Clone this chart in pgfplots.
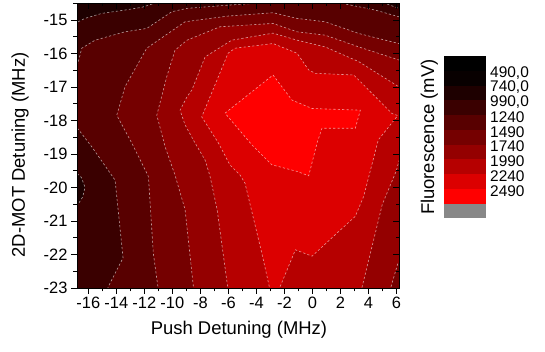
\documentclass[border=0pt]{standalone}
\usepackage{fontspec}
\setmainfont{Liberation Sans}
\usepackage{pgfplots}
\pgfplotsset{compat=1.18}
\definecolor{c490}{RGB}{8,0,0}
\definecolor{c740}{RGB}{30,0,0}
\definecolor{c990}{RGB}{58,0,0}
\definecolor{c1240}{RGB}{88,0,0}
\definecolor{c1490}{RGB}{117,0,0}
\definecolor{c1740}{RGB}{148,0,0}
\definecolor{c1990}{RGB}{182,0,0}
\definecolor{c2240}{RGB}{220,0,0}
\definecolor{c2490}{RGB}{255,0,0}
\definecolor{cgray}{RGB}{136,136,136}
\tikzset{cl/.style={draw=white, draw opacity=0.6, line width=0.6pt, dash pattern=on 2.2pt off 2.2pt}}
\begin{document}
\begin{tikzpicture}
\useasboundingbox (0,0) rectangle (545bp,352bp);
\begin{axis}[
  at={(77bp,64bp)}, anchor=south west, scale only axis, width=322bp, height=285bp,
  xmin=-16.81, xmax=6.19, ymin=-23, ymax=-14.49,
  axis on top,
  xtick={-16,-14,...,6}, xticklabels={-16,-14,-12,-10,-8,-6,-4,-2,0,2,4,6},
  minor xtick={-15,-13,...,5},
  ytick={-23,-22,...,-15}, yticklabels={-23,-22,-21,-20,-19,-18,-17,-16,-15},
  minor ytick={-22.5,-21.5,...,-14.5},
  tick align=outside, xtick pos=left, ytick pos=left,
  major tick length=6bp, minor tick length=3.5bp,
  tick style={black, line width=0.8pt},
  ticklabel style={font=\fontsize{16.5}{16.5}\selectfont},
  xlabel={Push Detuning (MHz)}, ylabel={2D-MOT Detuning (MHz)},
  label style={font=\fontsize{18.5}{18.5}\selectfont},
  xlabel style={at={(axis description cs:0.503,-0.147)}, anchor=center},
  ylabel style={at={(axis description cs:-0.177,0.467)}, anchor=center},
  axis line style={line width=0.8pt},
]
% base level 990-1240
\addplot[fill=c990, draw=none] coordinates {(-18,-24) (8,-24) (8,-14) (-18,-14)} -- cycle;
% below 990 regions
\addplot[fill=c740, cl] coordinates {(-18,-14.2) (-18,-15.10) (-16.96,-15.10) (-16.24,-14.95) (-15.04,-14.80) (-13.38,-14.70) (-12.19,-14.62) (-11.29,-14.50) (-11.0,-14.2)} -- cycle;
\addplot[fill=c740, cl] coordinates {(-18,-19.5) (-16.9,-19.54) (-16.5,-19.7) (-16.24,-19.99) (-16.4,-20.28) (-16.9,-20.61) (-18,-20.65)} -- cycle;
\addplot[fill=c740, cl] coordinates {(4.9,-14.2) (5.2,-14.5) (6.17,-14.65) (7.5,-14.7) (7.5,-14.2)} -- cycle;
% >= 1240
\addplot[fill=c1240, cl] coordinates {(-18,-16.39) (-16.81,-16.39) (-16.47,-15.84) (-15.52,-15.60) (-13.38,-15.35) (-11.83,-15.25) (-10.04,-14.75) (-8.95,-14.65) (-5.88,-14.55) (-3.59,-14.49) (-3.3,-14.2) (2.0,-14.2) (2.12,-14.5) (4.48,-14.7) (6.17,-14.9) (7.5,-15.0) (7.5,-24) (-14.8,-24) (-14.59,-22.97) (-13.52,-22.1) (-14.09,-19.78) (-15.76,-18.78) (-16.96,-18.13) (-18,-18.0)} -- cycle;
% >= 1490
\addplot[fill=c1490, cl] coordinates {(-11.0,-24) (-11.0,-23.06) (-11.36,-21.96) (-11.71,-19.67) (-12.9,-18.67) (-13.97,-17.84) (-13.38,-16.99) (-11.83,-15.84) (-9.09,-15.05) (-6.02,-14.88) (-2.81,-14.78) (-1.09,-14.95) (0.91,-15.05) (3.31,-15.40) (6.17,-15.70) (7.5,-15.75) (7.5,-24)} -- cycle;
% >= 1740
\addplot[fill=c1740, cl] coordinates {(-8.45,-24) (-8.5,-22.95) (-9.09,-20.66) (-9.81,-19.63) (-10.52,-18.78) (-11.11,-17.84) (-10.4,-16.69) (-9.81,-15.90) (-8.95,-15.60) (-6.6,-15.2) (-2.81,-15.10) (-1.09,-15.35) (0.91,-15.45) (3.31,-15.80) (6.17,-16.19) (7.5,-16.25) (7.5,-22.1) (6.12,-22.25) (5.55,-23.06) (5.5,-24)} -- cycle;
% >= 1990
\addplot[fill=c1990, cl] coordinates {(-6.0,-24) (-6.02,-23.06) (-6.8,-20.66) (-7.31,-19.66) (-7.66,-19.18) (-8.38,-18.67) (-9.09,-18.13) (-9.45,-17.69) (-8.95,-17.29) (-8.61,-17.09) (-7.66,-16.10) (-5.76,-15.60) (-2.81,-15.39) (-1.09,-15.60) (0.91,-15.80) (3.31,-16.24) (6.17,-16.99) (7.5,-17.0) (7.5,-19.1) (6.19,-19.2) (6.0,-19.5) (5.0,-20.5) (4.3,-21.7) (3.5,-23.06) (3.45,-24)} -- cycle;
% >= 2240
\addplot[fill=c2240, cl] coordinates {(-3.0,-24) (-3.02,-23.06) (-3.61,-21.96) (-4.81,-19.87) (-5.16,-19.63) (-5.88,-19.33) (-6.71,-18.67) (-7.9,-17.89) (-6.02,-15.99) (-5.52,-15.84) (-2.81,-15.70) (-1.09,-15.99) (-0.26,-16.49) (0.21,-16.59) (2.96,-16.64) (5.69,-17.79) (6.1,-17.85) (4.71,-18.58) (3.67,-20.26) (3.07,-20.86) (1.89,-21.31) (-0.02,-22.05) (-1.21,-21.86) (-2.31,-22.97) (-2.35,-24)} -- cycle;
% >= 2490
\addplot[fill=c2490, cl] coordinates {(-6.24,-17.78) (-2.81,-16.64) (-1.45,-17.39) (-0.02,-17.64) (3.43,-17.69) (3.07,-18.23) (0.69,-18.23) (0.34,-18.67) (-0.26,-19.65) (-1.09,-19.52) (-2.9,-19.32) (-4.31,-18.73)} -- cycle;
\end{axis}
% inner ticks on top and right
\begin{axis}[
  at={(77bp,64bp)}, anchor=south west, scale only axis, width=322bp, height=285bp,
  xmin=-16.81, xmax=6.19, ymin=-23, ymax=-14.49,
  axis line style={draw=none},
  xtick={-16,-14,...,6}, minor xtick={-15,-13,...,5},
  ytick={-23,-22,...,-15}, minor ytick={-22.5,-21.5,...,-14.5},
  xticklabels={}, yticklabels={},
  tick align=inside, xtick pos=right, ytick pos=right,
  major tick length=6bp, minor tick length=3.5bp,
  tick style={black, line width=0.8pt},
]
\end{axis}
% colour scale
\begin{axis}[
  at={(444bp,133.7bp)}, anchor=south west, scale only axis, width=42bp, height=162.3bp,
  xmin=0, xmax=1, ymin=0, ymax=11, y dir=reverse,
  axis line style={draw=none}, xtick=\empty,
  ytick={1,...,9}, yticklabels={{490,0},{740,0},{990,0},1240,1490,1740,1990,2240,2490},
  yticklabel pos=right, major tick length=0pt,
  yticklabel style={font=\fontsize{15.5}{15.5}\selectfont, anchor=west, inner sep=0pt, xshift=4bp, yshift=-2bp},
  ylabel={Fluorescence (mV)}, ylabel style={font=\fontsize{18.5}{18.5}\selectfont, at={(axis description cs:-0.35,0.5)}, anchor=center},
  clip=false,
]
\addplot[fill=black, draw=none] coordinates {(0,0) (1,0) (1,1) (0,1)} -- cycle;
\addplot[fill=c490, draw=none] coordinates {(0,1) (1,1) (1,2) (0,2)} -- cycle;
\addplot[fill=c740, draw=none] coordinates {(0,2) (1,2) (1,3) (0,3)} -- cycle;
\addplot[fill=c990, draw=none] coordinates {(0,3) (1,3) (1,4) (0,4)} -- cycle;
\addplot[fill=c1240, draw=none] coordinates {(0,4) (1,4) (1,5) (0,5)} -- cycle;
\addplot[fill=c1490, draw=none] coordinates {(0,5) (1,5) (1,6) (0,6)} -- cycle;
\addplot[fill=c1740, draw=none] coordinates {(0,6) (1,6) (1,7) (0,7)} -- cycle;
\addplot[fill=c1990, draw=none] coordinates {(0,7) (1,7) (1,8) (0,8)} -- cycle;
\addplot[fill=c2240, draw=none] coordinates {(0,8) (1,8) (1,9) (0,9)} -- cycle;
\addplot[fill=c2490, draw=none] coordinates {(0,9) (1,9) (1,10) (0,10)} -- cycle;
\addplot[fill=cgray, draw=none] coordinates {(0,10) (1,10) (1,11) (0,11)} -- cycle;
\end{axis}
\end{tikzpicture}
\end{document}
